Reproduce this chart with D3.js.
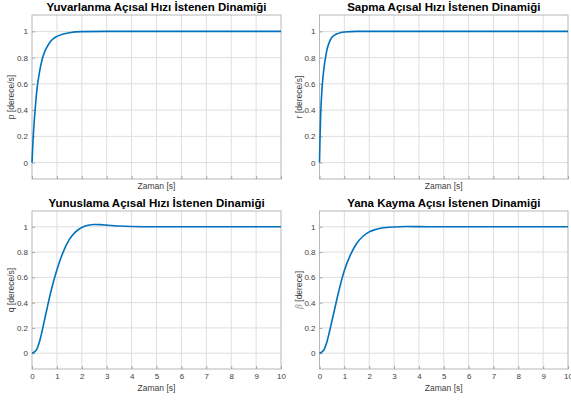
<!DOCTYPE html>
<html lang="en">
<head>
    <meta charset="UTF-8">
    <title>Istenen Dinamik</title>
    <style>
        body { margin: 0; background: #fff; }
        text { font-family: "Liberation Sans", Arial, sans-serif; }
    </style>
</head>
<body>
<svg></svg>
<script src="https://d3js.org/d3.v7.min.js"></script>
<script>
    var width = 571;
    var height = 400;

    // values
    var pTime = [0, 0.05, 0.1, 0.15, 0.2, 0.3, 0.4, 0.5, 0.6, 0.75, 1, 1.25, 1.5, 2, 3, 10];
    var pValue = [0, 0.2, 0.34, 0.46, 0.56, 0.69, 0.78, 0.84, 0.88, 0.925, 0.962, 0.98, 0.99, 0.998, 1, 1];

    var rTime = [0, 0.025, 0.05, 0.1, 0.15, 0.2, 0.25, 0.3, 0.4, 0.5, 0.75, 1, 1.5, 10];
    var rValue = [0, 0.22, 0.38, 0.56, 0.67, 0.75, 0.81, 0.86, 0.92, 0.955, 0.985, 0.996, 1, 1];

    var qTime = [0, 0.1, 0.2, 0.3, 0.4, 0.5, 0.6, 0.75, 1, 1.25, 1.5, 1.75, 2, 2.25, 2.5, 2.75, 3, 3.5, 4, 5, 10];
    var qValue = [0, 0.01, 0.035, 0.09, 0.17, 0.26, 0.35, 0.48, 0.66, 0.8, 0.9, 0.96, 0.995, 1.012, 1.018, 1.017, 1.013, 1.006, 1.002, 1, 1];

    var bTime = [0, 0.1, 0.2, 0.3, 0.4, 0.5, 0.6, 0.75, 1, 1.25, 1.5, 1.75, 2, 2.25, 2.5, 3, 3.5, 4, 5, 10];
    var bValue = [0, 0.01, 0.035, 0.09, 0.17, 0.255, 0.34, 0.47, 0.655, 0.78, 0.87, 0.925, 0.96, 0.978, 0.99, 0.999, 1.002, 1.001, 1, 1];

    var xTicks = [0, 1, 2, 3, 4, 5, 6, 7, 8, 9, 10];
    var yTicks = [0, 0.2, 0.4, 0.6, 0.8, 1];

    var panels = [
        {title: "Yuvarlanma Açısal Hızı İstenen Dinamiği", ylab: "p [derece/s]", t: pTime, v: pValue,
            left: 32, right: 281, top: 15, bottom: 179, xLabels: false},
        {title: "Sapma Açısal Hızı İstenen Dinamiği", ylab: "r [derece/s]", t: rTime, v: rValue,
            left: 319.5, right: 568, top: 15, bottom: 179, xLabels: false},
        {title: "Yunuslama Açısal Hızı İstenen Dinamiği", ylab: "q [derece/s]", t: qTime, v: qValue,
            left: 32, right: 281, top: 211, bottom: 369, xLabels: true},
        {title: "Yana Kayma Açısı İstenen Dinamiği", ylab: "beta", t: bTime, v: bValue,
            left: 319.5, right: 568, top: 211, bottom: 369, xLabels: true}
    ];

    var svg = d3.select("svg")
        .attr("width", width)
        .attr("height", height);

    panels.forEach(function (p) {
        var x = d3.scaleLinear().domain([0, 10]).range([p.left, p.right]);
        var y = d3.scaleLinear().domain([-0.125, 1.125]).range([p.bottom, p.top]);
        var g = svg.append("g");

        // grid
        g.selectAll(".gx").data(xTicks.slice(1, -1)).enter().append("line")
            .attr("x1", function (d) { return x(d); })
            .attr("x2", function (d) { return x(d); })
            .attr("y1", p.top).attr("y2", p.bottom)
            .style("stroke", "#dedede").style("stroke-width", 1);
        g.selectAll(".gy").data(yTicks).enter().append("line")
            .attr("x1", p.left).attr("x2", p.right)
            .attr("y1", function (d) { return y(d); })
            .attr("y2", function (d) { return y(d); })
            .style("stroke", "#dedede").style("stroke-width", 1);

        // box
        g.append("rect")
            .attr("x", p.left).attr("y", p.top)
            .attr("width", p.right - p.left).attr("height", p.bottom - p.top)
            .style("fill", "none").style("stroke", "#a6a6a6").style("stroke-width", 0.8);

        // axes
        var yAxis = d3.axisLeft(y).tickValues(yTicks).tickSize(-3).tickPadding(4)
            .tickFormat(function (d) { return d3.format("~g")(d); });
        var ya = g.append("g").attr("transform", "translate(" + p.left + ",0)").call(yAxis);
        ya.select(".domain").remove();
        ya.selectAll("line").style("stroke", "#a6a6a6");
        ya.selectAll("text").style("font-size", "8px").style("fill", "#404040");

        var xAxis = d3.axisBottom(x).tickValues(xTicks).tickSize(-3).tickPadding(4)
            .tickFormat(p.xLabels ? d3.format("d") : "");
        var xa = g.append("g").attr("transform", "translate(0," + p.bottom + ")").call(xAxis);
        xa.select(".domain").remove();
        xa.selectAll("line").style("stroke", "#a6a6a6");
        xa.selectAll("text").style("font-size", "8px").style("fill", "#404040");

        // curve
        var line = d3.line()
            .x(function (d, i) { return x(p.t[i]); })
            .y(function (d) { return y(d); })
            .curve(d3.curveMonotoneX);
        g.append("path")
            .datum(p.v)
            .attr("d", line)
            .style("fill", "none")
            .style("stroke", "#0072bd")
            .style("stroke-width", 1.6);

        // title
        g.append("text")
            .attr("x", (p.left + p.right) / 2)
            .attr("y", p.top - 4)
            .attr("text-anchor", "middle")
            .style("font-size", "11.5px")
            .style("font-weight", "bold")
            .style("fill", "#000")
            .text(p.title);

        // x label
        g.append("text")
            .attr("x", (p.left + p.right) / 2)
            .attr("y", p.bottom + (p.xLabels ? 22 : 10))
            .attr("text-anchor", "middle")
            .style("font-size", "8.5px")
            .style("fill", "#404040")
            .text("Zaman [s]");

        // y label
        var yl = g.append("text")
            .attr("transform", "translate(" + (p.left - 18) + "," + y(0.5) + ") rotate(-90)")
            .attr("text-anchor", "middle")
            .style("font-size", "8.5px")
            .style("fill", "#404040");
        if (p.ylab === "beta") {
            yl.append("tspan")
                .style("font-family", "'DejaVu Serif', serif")
                .style("font-style", "italic")
                .style("fill", "#909090")
                .text("β");
            yl.append("tspan").text(" [derece]");
        } else {
            yl.text(p.ylab);
        }
    });
</script>
</body>
</html>
